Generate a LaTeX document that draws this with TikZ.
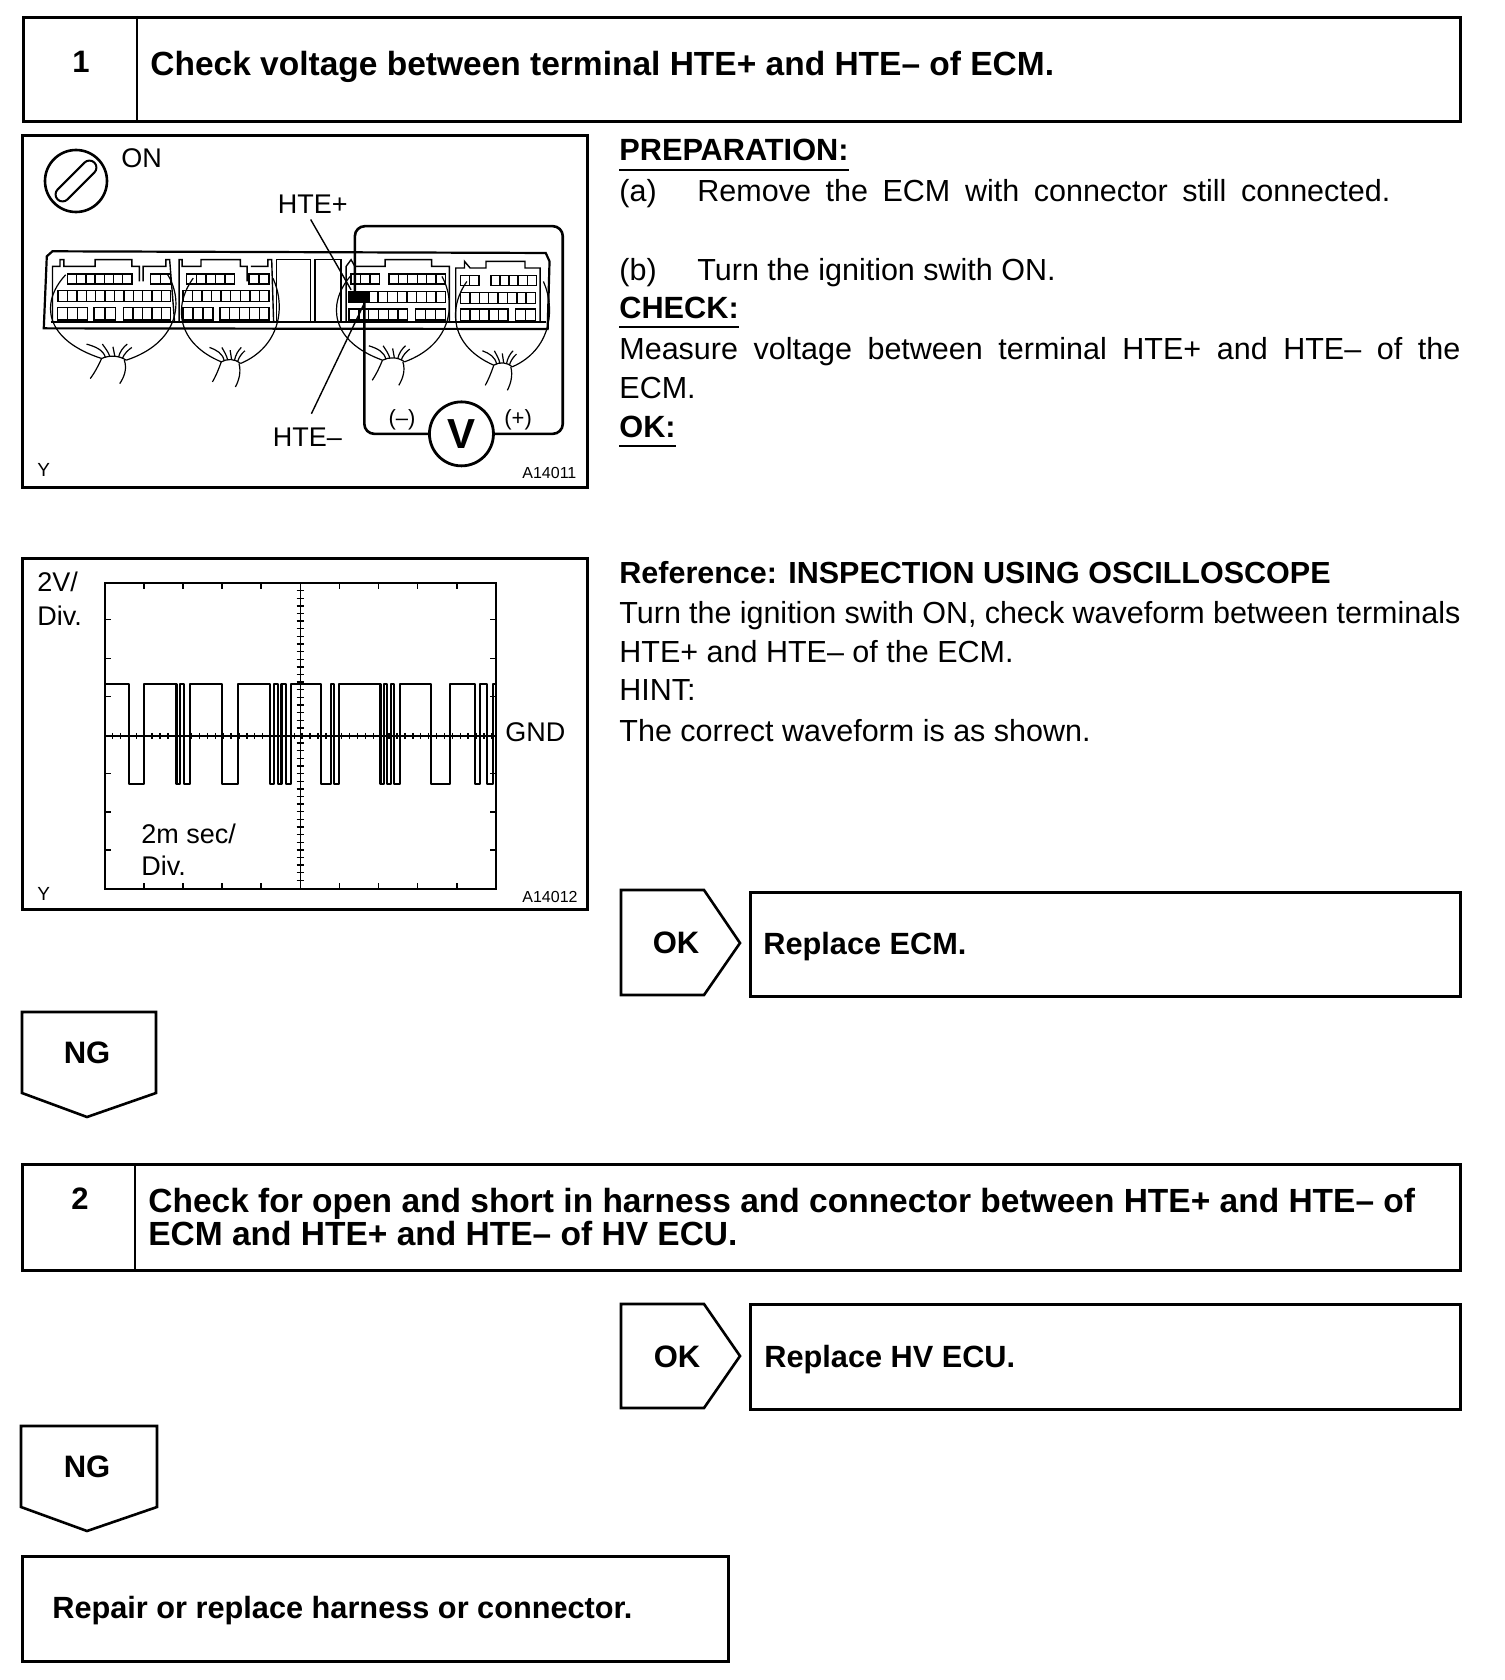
\documentclass[tikz,border=0pt]{standalone}
\usepackage{fontspec}
\setmainfont{Liberation Sans}
\usetikzlibrary{positioning}
% one row of terminal cells: x1, x2, y1, y2, cell count
\newcommand{\cellrow}[5]{%
  \draw[cell] (#1,#3) rectangle (#2,#4);
  \foreach \k [evaluate=\k as \xk using #1+(#2-#1)*\k/#5] in {1,...,#5}
    \draw[cell] (\xk,#3) -- (\xk,#4);
}
\tikzset{
  harness/.pic={
    \draw[thin wire] (-125,-255) .. controls (-195,-170) and (-180,-60) .. (-30,-5);
    \draw[thin wire] (35,0) .. controls (170,-50) and (190,-170) .. (145,-255);
    \draw[thin wire] (-30,-5) .. controls (-10,-15) and (15,-15) .. (35,0);
    \draw[thin wire] (-30,-5) .. controls (-40,20) and (-50,40) .. (-60,55);
    \draw[thin wire] (30,0) .. controls (38,25) and (30,50) .. (18,70);
    \draw[thin wire] (-20,-8) .. controls (-25,-30) and (-45,-40) .. (-70,-48);
    \draw[thin wire] (-8,-10) .. controls (-12,-25) and (-20,-35) .. (-28,-48);
    \draw[thin wire] (5,-12) -- (0,-40);
    \draw[thin wire] (15,-10) .. controls (18,-25) and (28,-40) .. (38,-48);
    \draw[thin wire] (25,-5) .. controls (30,-20) and (40,-30) .. (50,-38);
  }
}
\begin{document}
\begin{tikzpicture}[x=0.5pt, y=-0.5pt,
    box/.style={draw, line width=1.3pt, anchor=north west, inner sep=0pt},
    tagline/.style={draw, line width=1.3pt},
    panel/.style={draw, line width=1.3pt},
    body/.style={anchor=base west, inner sep=0pt, font=\fontsize{15.25}{18}\selectfont},
    head/.style={body, font=\fontsize{15.35}{18}\selectfont\bfseries},
    title/.style={body, font=\fontsize{16.75}{18}\selectfont\bfseries},
    result/.style={body, font=\fontsize{15.35}{18}\selectfont\bfseries},
    num/.style={anchor=base, inner sep=0pt, font=\fontsize{15.5}{18}\selectfont\bfseries},
    label/.style={body, font=\fontsize{13.5}{16}\selectfont},
    tiny/.style={body, font=\fontsize{8}{10}\selectfont},
    uline/.style={line width=0.9pt},
    cell/.style={line width=0.7pt},
    thin wire/.style={line width=0.6pt},
    lead/.style={line width=1.3pt, rounded corners=5pt}]
  \useasboundingbox (0,0) rectangle (1504,1680);

  % step 1
  \node[box, minimum width=718.5pt, minimum height=52pt] (stepa) at (22,16) {};
  \draw[panel] (137,16) -- (137,120);
  \node[num] (numa) at (81,73) {1};
  \node[title] (titlea) at (150,76) {Check voltage between terminal HTE+ and HTE– of ECM.};

  % text beside the first picture
  \node[head] (prep) at (619,161) {PREPARATION:};
  \draw[uline] ([yshift=-4.5pt]prep.base west) -- ([yshift=-4.5pt]prep.base east);
  \node[body] (prepa) at (619,202) {(a)};
  \node[body] (prepatext) at (697,202) {\makebox[346.5pt][s]{Remove the ECM with connector still connected.}};
  \node[body] (prepb) at (619,280) {(b)};
  \node[body] (prepbtext) at (697,280) {Turn the ignition swith ON.};
  \node[head] (check) at (619,318) {CHECK:};
  \draw[uline] ([yshift=-4.5pt]check.base west) -- ([yshift=-4.5pt]check.base east);
  \node[body] (checka) at (619,359) {\makebox[420.5pt][s]{Measure voltage between terminal HTE+ and HTE– of the}};
  \node[body] (checkb) at (619,398) {ECM.};
  \node[head] (okhead) at (619,437) {OK:};
  \draw[uline] ([yshift=-4.5pt]okhead.base west) -- ([yshift=-4.5pt]okhead.base east);

  % connector picture
  \node[box, minimum width=282.5pt, minimum height=176pt] (conpic) at (21,134) {};
  \draw[panel] (76,181) circle (31);
  \draw[line width=1pt, rounded corners=3.5pt, rotate around={45:(76,181)}] (50,174) rectangle (102,188);
  \node[label] (onlabel) at (121,168) {ON};
  \node[tiny, font=\fontsize{9.5}{10}\selectfont] (ya) at (37,476) {Y};
  \node[tiny] (codea) at (522,478) {A14011};
  \begin{scope}[shift={(9,124)}, x=0.189pt, y=-0.1675pt]
    \draw[line width=1.1pt] (92,610) -- (100,395) -- (115,380) -- (1420,385) -- (1430,410) -- (1425,612) -- cycle;
    \draw[line width=0.9pt] (110,592) -- (1420,592);
    % housings
    \draw[cell] (115,590) -- (115,425) -- (135,425) -- (135,405) -- (145,405) -- (145,425) -- (228,425) -- (228,405) -- (325,405) -- (325,425) -- (345,425) -- (345,470) (355,470) -- (355,425) -- (415,425) -- (415,405) -- (425,405) -- (438,590);
    \draw[cell] (450,590) -- (450,405) -- (458,405) -- (458,425) -- (508,425) -- (508,405) -- (612,405) -- (612,425) -- (630,425) -- (630,470) (640,425) -- (685,425) -- (685,405) -- (695,405) -- (700,590);
    \draw[cell] (708,590) -- (708,405) -- (798,405) -- (798,590) (810,590) -- (810,405) -- (878,405) -- (878,590);
    \draw[cell] (892,590) -- (892,425) -- (905,405) -- (915,425) -- (995,425) -- (995,405) -- (1118,405) -- (1118,425) -- (1165,425) -- (1165,590);
    \draw[cell] (1182,590) -- (1182,430) -- (1205,430) -- (1205,410) -- (1220,430) -- (1262,430) -- (1262,410) -- (1365,410) -- (1365,430) -- (1405,430) -- (1405,590);
    % terminal rows
    \cellrow{155}{325}{448}{478}{7}
    \cellrow{375}{428}{448}{478}{2}
    \cellrow{130}{428}{497}{530}{12}
    \cellrow{128}{207}{548}{585}{3}
    \cellrow{225}{282}{548}{585}{2}
    \cellrow{303}{428}{548}{585}{5}
    \cellrow{470}{597}{448}{478}{5}
    \cellrow{635}{688}{448}{478}{2}
    \cellrow{460}{688}{497}{530}{9}
    \cellrow{460}{540}{548}{585}{3}
    \cellrow{558}{688}{548}{585}{5}
    \cellrow{905}{980}{448}{478}{3}
    \cellrow{1005}{1155}{448}{478}{6}
    \cellrow{900}{1155}{500}{533}{10}
    \cellrow{900}{1055}{552}{585}{6}
    \cellrow{1075}{1155}{552}{585}{3}
    \cellrow{1195}{1243}{452}{482}{2}
    \cellrow{1275}{1395}{452}{482}{5}
    \cellrow{1195}{1393}{503}{535}{8}
    \cellrow{1195}{1320}{552}{588}{5}
    \cellrow{1340}{1393}{552}{588}{2}
    \fill (900,500) rectangle (955,533);
    % wire bundles
    \pic at (275,705) {harness};
    \pic[xscale=0.78] at (585,715) {harness};
    \pic[xscale=0.9] at (1015,710) {harness};
    \pic[xscale=0.75] at (1305,725) {harness};
    % meter
    \node[circle, draw, line width=1.4pt, minimum size=32pt, inner sep=0pt, font=\fontsize{21}{24}\selectfont\bfseries] (meter) at (1197,925) {V};
    \coordinate (hteplus) at (915,500);
    \coordinate (hteminus) at (940,533);
    \draw[lead] (meter.east) -- (1465,925) -- (1465,305) -- (915,305) -- (hteplus);
    \draw[lead] (meter.west) -- (940,925) -- (hteminus);
    \node[anchor=base, inner sep=0pt, font=\fontsize{11}{12}\selectfont] (minuslabel) at (1040,900) {(–)};
    \node[anchor=base, inner sep=0pt, font=\fontsize{11}{12}\selectfont] (pluslabel) at (1347,900) {(+)};
    \node[label] (plusname) at (710,268) {HTE+};
    \node[label] (minusname) at (697,962) {HTE–};
    \draw[line width=0.7pt] (798,285) -- (905,495);
    \draw[line width=0.7pt] (800,865) -- (940,535);
  \end{scope}

  % text beside the waveform
  \node[head, font=\fontsize{15.25}{18}\selectfont\bfseries] (refhead) at (619,583) {Reference: INSPECTION USING OSCILLOSCOPE};
  \node[body] (refa) at (619,623) {\makebox[420.5pt][s]{Turn the ignition swith ON, check waveform between terminals}};
  \node[body] (refb) at (619,662) {HTE+ and HTE– of the ECM.};
  \node[body] (refc) at (619,700) {HINT:};
  \node[body] (refd) at (619,741) {The correct waveform is as shown.};

  % waveform picture
  \node[box, minimum width=282.5pt, minimum height=175.5pt] (wavepic) at (21,557) {};
  \node[label] (voltsa) at (37,591) {2V/};
  \node[label] (voltsb) at (37,625) {Div.};
  \node[label] (gndlabel) at (505,741) {GND};
  \node[label] (timea) at (141,843) {2m sec/};
  \node[label] (timeb) at (141,875) {Div.};
  \node[tiny, font=\fontsize{9.5}{10}\selectfont] (yb) at (37,900) {Y};
  \node[tiny] (codeb) at (522,902) {A14012};
  \begin{scope}[shift={(9.8,546.5)}, x=0.18815pt, y=-0.16575pt]
    \draw[line width=0.7pt] (253,110) rectangle (1292,1033);
    \foreach \gx in {357,460,564,668,876,980,1084,1188} {
      \draw[cell] (\gx,110) -- (\gx,128);
      \draw[cell] (\gx,1033) -- (\gx,1015);
    }
    \foreach \gy in {220,337,453,685,801,916} {
      \draw[cell] (253,\gy) -- (270,\gy);
      \draw[cell] (1292,\gy) -- (1275,\gy);
    }
    % centre cross with its small divisions
    \draw[line width=0.7pt] (772,110) -- (772,1033);
    \draw[line width=1pt] (253,572) -- (1292,572);
    \foreach \gy in {133,156,...,1020}
      \draw[cell] (762,\gy) -- (782,\gy);
    \foreach \gx in {273,294,...,1285}
      \draw[cell] (\gx,562) -- (\gx,582);
    % signal
    \draw[line width=1.1pt, line join=round] (253,415)
      \foreach \a/\b in {316/357,443/453,463/478,563/606,692/703,712/722,733/748,827/853,862/875,985/995,1003/1012,1022/1037,1120/1170,1237/1250,1268/1283}
        { -- (\a,415) -- (\a,716) -- (\b,716) -- (\b,415) }
      -- (1292,415);
  \end{scope}

  % result of step 1
  \draw[tagline] (621,890) -- (704,890) -- (740,943) -- (704,995) -- (621,995) -- cycle;
  \node[num] (oka) at (676,953) {OK};
  \node[box, minimum width=355pt, minimum height=52pt] (resa) at (749,891) {};
  \node[result] (resatext) at (763,954) {Replace ECM.};
  \draw[tagline] (22,1012) -- (156,1012) -- (156,1093) -- (87,1117) -- (22,1093) -- cycle;
  \node[num] (nga) at (87,1063) {NG};

  % step 2
  \node[box, minimum width=719pt, minimum height=53pt] (stepb) at (21,1163) {};
  \draw[panel] (135,1163) -- (135,1269);
  \node[num] (numb) at (80,1209) {2};
  \node[title] (titleb) at (148,1212) {Check for open and short in harness and connector between HTE+ and HTE– of};
  \node[title] (titlec) at (148,1245) {ECM and HTE+ and HTE– of HV ECU.};

  % result of step 2
  \draw[tagline] (621,1304) -- (704,1304) -- (740,1356) -- (704,1408) -- (621,1408) -- cycle;
  \node[num] (okb) at (677,1367) {OK};
  \node[box, minimum width=355pt, minimum height=52.5pt] (resb) at (749,1303) {};
  \node[result] (resbtext) at (764,1367) {Replace HV ECU.};
  \draw[tagline] (21,1426) -- (157,1426) -- (157,1507) -- (87,1531) -- (21,1507) -- cycle;
  \node[num] (ngb) at (87,1477) {NG};
  \node[box, minimum width=353pt, minimum height=52.5pt] (resc) at (21,1555) {};
  \node[result] (resctext) at (52,1618) {Repair or replace harness or connector.};
\end{tikzpicture}
\end{document}
